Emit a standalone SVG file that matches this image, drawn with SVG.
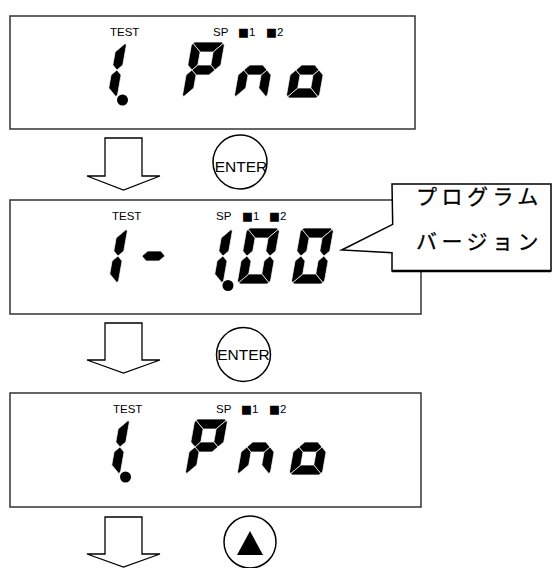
<svg xmlns="http://www.w3.org/2000/svg" width="552" height="568" viewBox="0 0 552 568">
<style>
.panel{fill:#fff;stroke:#333;stroke-width:1.5}
.lbl{font-family:"Liberation Sans",Arial,sans-serif;font-size:11.5px;fill:#000}
.sq{font-family:"DejaVu Sans",sans-serif;font-size:11.5px}
.seg{fill:#000;stroke:#fff;stroke-width:0.7;stroke-linejoin:miter}
.arrow{fill:#fff;stroke:#000;stroke-width:1.3;stroke-linejoin:miter}
.btn{fill:#fff;stroke:#000;stroke-width:1.5}
.btxt{font-family:"Liberation Sans",Arial,sans-serif;font-size:15.5px;fill:#000;text-anchor:middle}
.jp{font-family:"Noto Sans CJK JP",sans-serif;font-size:21px;letter-spacing:4.5px;fill:#000;stroke:#000;stroke-width:0.3}
</style>
<defs>
<polygon id="sa" class="seg" points="3,-56 30,-56 31.5,-54.5 23,-46 10,-46 1.5,-54.5"/>
<polygon id="sb" class="seg" points="31.5,-54.5 33,-53 33,-33 28,-28 23,-33 23,-46"/>
<polygon id="sc" class="seg" points="28,-28 33,-23 33,-3 31.5,-1.5 23,-10 23,-23"/>
<polygon id="sd" class="seg" points="1.5,-1.5 10,-10 23,-10 31.5,-1.5 30,0 3,0"/>
<polygon id="se" class="seg" points="5,-28 10,-23 10,-10 1.5,-1.5 0,-3 0,-23"/>
<polygon id="sf" class="seg" points="1.5,-54.5 10,-46 10,-33 5,-28 0,-33 0,-53"/>
<polygon id="sg" class="seg" points="5,-28 10,-33 23,-33 28,-28 23,-23 10,-23"/>
<g id="d1"><use href="#sb"/><use href="#sc"/></g>
<g id="dP"><use href="#sa"/><use href="#sb"/><use href="#sf"/><use href="#sg"/><use href="#se"/></g>
<g id="dn"><use href="#sc"/><use href="#se"/><use href="#sg"/></g>
<g id="do"><use href="#sc"/><use href="#sd"/><use href="#se"/><use href="#sg"/></g>
<g id="d0"><use href="#sa"/><use href="#sb"/><use href="#sc"/><use href="#sd"/><use href="#se"/><use href="#sf"/></g>
</defs>

<g id="display1">
<rect class="panel" x="10" y="16" width="405" height="113"/>
<text class="lbl" x="110" y="36">TEST</text>
<text class="lbl" y="36"><tspan x="213">SP</tspan><tspan x="238" class="sq">■</tspan><tspan>1</tspan><tspan x="266" class="sq">■</tspan><tspan>2</tspan></text>
<g transform="translate(84,98) skewX(-10)"><use href="#d1"/></g>
<circle cx="122.5" cy="100" r="5.5"/>
<g transform="translate(182,98) skewX(-10)"><use href="#dP"/></g>
<g transform="translate(234,98) skewX(-10)"><use href="#dn"/></g>
<g transform="translate(286,98) skewX(-10)"><use href="#do"/></g>
</g>

<g id="display2">
<rect class="panel" x="10" y="200" width="411" height="114"/>
<text class="lbl" x="112" y="219.5">TEST</text>
<text class="lbl" y="219.5"><tspan x="216">SP</tspan><tspan x="242" class="sq">■</tspan><tspan>1</tspan><tspan x="269" class="sq">■</tspan><tspan>2</tspan></text>
<g transform="translate(85,284) skewX(-10)"><use href="#d1"/></g>
<g transform="translate(132,284) skewX(-10)"><use href="#sg"/></g>
<g transform="translate(190,284) skewX(-10)"><use href="#d1"/></g>
<circle cx="228" cy="285.5" r="5.5"/>
<g transform="translate(237,284) skewX(-10)"><use href="#d0"/></g>
<g transform="translate(291,284) skewX(-10)"><use href="#d0"/></g>
</g>

<g id="callout">
<path d="M392,184 H551 V271 H392 V252.7 L341.7,250 L392.7,224.3 Z" fill="#fff" stroke="#000" stroke-width="1.5" stroke-linejoin="miter"/>
<line x1="392" y1="271" x2="551" y2="271" stroke="#000" stroke-width="2.5"/>
<text class="jp" x="416" y="204">プログラム</text>
<text class="jp" x="416" y="249">バージョン</text>
</g>

<g id="display3">
<rect class="panel" x="10" y="393" width="411" height="114"/>
<g transform="translate(3,377)">
<text class="lbl" x="110" y="36">TEST</text>
<text class="lbl" y="36"><tspan x="213">SP</tspan><tspan x="238" class="sq">■</tspan><tspan>1</tspan><tspan x="266" class="sq">■</tspan><tspan>2</tspan></text>
<g transform="translate(84,98) skewX(-10)"><use href="#d1"/></g>
<circle cx="122.5" cy="100" r="5.5"/>
<g transform="translate(182,98) skewX(-10)"><use href="#dP"/></g>
<g transform="translate(234,98) skewX(-10)"><use href="#dn"/></g>
<g transform="translate(286,98) skewX(-10)"><use href="#do"/></g>
</g>
</g>

<g id="enter1">
<circle class="btn" cx="240" cy="162" r="27"/>
<text class="btxt" x="241" y="171.5">ENTER</text>
</g>
<g id="enter2">
<circle class="btn" cx="243.5" cy="354.5" r="27"/>
<text class="btxt" x="243.5" y="359.5">ENTER</text>
</g>
<g id="up-button">
<circle class="btn" cx="250" cy="542" r="26"/>
<polygon points="250,531 263,555 237,555" fill="#000"/>
</g>

<g id="connectors">
<polygon class="arrow" points="105,138 142,138 142,176 160,176 123.5,190 87,176 105,176"/>
<polygon class="arrow" points="105,323 142,323 142,360 160,360 123.5,373 87,360 105,360"/>
<polygon class="arrow" points="105,517 142,517 142,554 160,554 123.5,567 87,554 105,554"/>
</g>
</svg>
